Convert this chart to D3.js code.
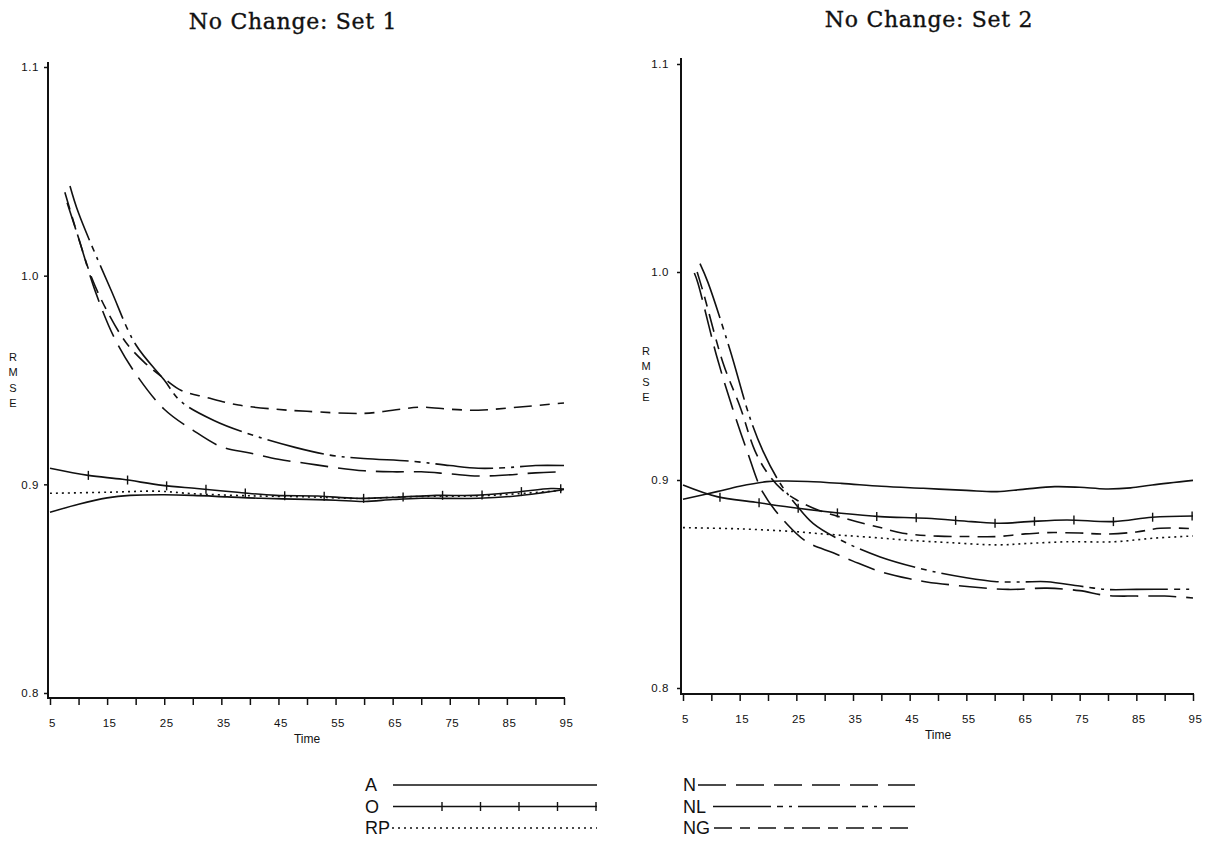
<!DOCTYPE html>
<html><head><meta charset="utf-8">
<script src="https://cdn.jsdelivr.net/npm/d3@7/dist/d3.min.js"></script>
<style>
body{margin:0;background:#fff}
svg text{fill:#111}
</style>
</head><body>
<svg id="c" width="1210" height="842"></svg>
<script>
// ---------------- data ----------------
const panelTitles = ["No Change: Set 1", "No Change: Set 2"];
const seriesNames = ["A", "O", "RP", "N", "NL", "NG"];
const timeTicks = [5,10,15,20,25,30,35,40,45,50,55,60,65,70,75,80,85,90,95];
const timeLabels = ["5","","15","","25","","35","","45","","55","","65","","75","","85","","95"];
const rmseTicks = [0.8, 0.9, 1.0, 1.1];
const rmseLabels = ["0.8", "0.9", "1.0", "1.1"];
const xTitle = "Time";
const yTitle = ["R", "M", "S", "E"];

// Set 1  [time, RMSE]
const set1_A  = [[5,0.8866],[10,0.8905],[15,0.8935],[19,0.8947],[25,0.895],[30,0.8947],[36,0.894],[42,0.8933],[50,0.8928],[55,0.8924],[60,0.8918],[65,0.8927],[70,0.8933],[80,0.8933],[87,0.8945],[95,0.8975]];
const set1_O  = [[5,0.9077],[11.7,0.9043],[17.7,0.9024],[24.7,0.8995],[30.7,0.898],[37.8,0.8962],[44.5,0.8947],[51.9,0.8944],[58.6,0.8933],[65.6,0.8938],[72.6,0.8947],[79.3,0.8947],[86.4,0.8962],[92.7,0.898],[95,0.8978]];
const set1_RP = [[5,0.8957],[15,0.8962],[24,0.8967],[30,0.8955],[40,0.8945],[50,0.894],[55,0.8935],[60,0.8932],[65,0.8938],[70,0.8942],[80,0.8945],[87,0.8955],[95,0.8972]];
const set1_N  = [[8,1.035],[10,1.018],[13,0.992],[16.3,0.970],[20,0.953],[25,0.936],[30,0.926],[35,0.918],[40,0.915],[45,0.912],[50,0.910],[55,0.908],[60,0.9065],[65,0.906],[70,0.906],[75,0.905],[80,0.904],[85,0.9045],[90,0.9055],[95,0.906]];
const set1_NL = [[8.5,1.043],[10,1.030],[15.7,0.993],[20,0.967],[25,0.950],[27.8,0.940],[33.7,0.9306],[40,0.924],[47.9,0.9177],[54,0.914],[59.9,0.9124],[68.6,0.911],[75,0.909],[80,0.9077],[85,0.908],[90,0.909],[95,0.909]];
const set1_NG = [[7.6,1.040],[10,1.018],[12.3,0.999],[15,0.983],[18.3,0.968],[21.7,0.958],[25,0.9507],[28,0.945],[32.5,0.9416],[38,0.938],[44.5,0.936],[50,0.935],[59.9,0.934],[65,0.9355],[70,0.937],[75,0.936],[80,0.9355],[85,0.9365],[95,0.939]];

// Set 2  [time, RMSE]
const set2_A  = [[5,0.8907],[11,0.8944],[15,0.897],[19.8,0.8992],[22.6,0.8995],[27,0.8993],[32.9,0.8984],[40,0.897],[47.4,0.896],[55,0.895],[60.4,0.8944],[65,0.8955],[70.6,0.8968],[75,0.8965],[79.6,0.8957],[84,0.8962],[87.8,0.8976],[95,0.8998]];
const set2_O  = [[5,0.8976],[11,0.892],[17.8,0.8893],[25.3,0.8864],[32.9,0.884],[39.8,0.8824],[48,0.8816],[55.9,0.880],[61,0.8792],[66,0.880],[72.7,0.8808],[81,0.880],[87.8,0.8821],[95,0.8827]];
const set2_RP = [[5,0.8771],[15,0.8765],[24.7,0.8752],[30,0.874],[38.4,0.8724],[45,0.871],[52.1,0.8699],[60.4,0.8688],[66,0.8695],[72.7,0.8703],[81,0.8703],[88,0.872],[95,0.8731]];
const set2_N  = [[7,0.9995],[7.6,0.995],[11,0.959],[13.8,0.934],[16.3,0.914],[19.1,0.894],[23.3,0.879],[27,0.870],[31.5,0.865],[35,0.861],[39.8,0.856],[45,0.8525],[48,0.851],[55.6,0.8487],[62.4,0.8474],[69.2,0.848],[75,0.8468],[79.6,0.8445],[85,0.8442],[90,0.8442],[95,0.8433]];
const set2_NL = [[8,1.004],[9.4,0.995],[13.3,0.9625],[16.8,0.930],[19.1,0.914],[22,0.899],[24.7,0.889],[28,0.879],[32.9,0.871],[39.8,0.863],[48,0.8567],[55,0.853],[60.4,0.8511],[65,0.851],[69.2,0.8511],[75,0.849],[79.6,0.8474],[85,0.8474],[90,0.8475],[95,0.8475]];
const set2_NG = [[7.5,1.0],[8.6,0.990],[12.1,0.956],[15.1,0.935],[17.7,0.914],[20,0.903],[22.6,0.895],[25,0.8905],[28.8,0.8856],[34.3,0.881],[40,0.877],[43.8,0.8744],[50,0.873],[55.6,0.8728],[60.4,0.8728],[65,0.874],[69.2,0.8747],[75,0.8745],[79.6,0.874],[85,0.875],[89.2,0.8768],[95,0.8766]];

const legendLeft = ["A", "O", "RP"];
const legendRight = ["N", "NL", "NG"];

// ---------------- drawing ----------------
const ink = "#111";
const sans = "'Liberation Sans', Arial, sans-serif";
const style = {
  A:  {dash: null},
  O:  {dash: null, plus: true},
  RP: {dash: "2,4"},
  N:  {dash: "28,10"},
  NL: {dash: "58,6,6,6,3,6"},
  NG: {dash: "18,8,10,8"}
};

const svg = d3.select("#c");

function addPlus(g, pathNode, start, step) {
  const L = pathNode.getTotalLength();
  for (let s = start; s <= L + 0.5; s += step) {
    const p = pathNode.getPointAtLength(Math.min(s, L));
    g.append("line").attr("x1", p.x).attr("x2", p.x)
      .attr("y1", p.y - 4.5).attr("y2", p.y + 4.5)
      .attr("stroke", ink).attr("stroke-width", 1.4);
  }
}

function drawPanel(cfg) {
  const g = svg.append("g");
  const x = d3.scaleLinear().domain([5, 95]).range(cfg.xr);
  const y = d3.scaleLinear().domain([0.8, 1.1]).range(cfg.yr);

  // title
  g.append("text").attr("x", cfg.titleX).attr("y", cfg.titleY)
    .attr("text-anchor", "middle")
    .style("font-family", "'DejaVu Serif', serif").style("font-size", "22px")
    .style("letter-spacing", "0.7px")
    .attr("stroke", ink).attr("stroke-width", 0.35)
    .text(cfg.title);

  // axis lines
  g.append("line").attr("x1", cfg.yAxisX).attr("x2", cfg.yAxisX)
    .attr("y1", cfg.yAxisTop).attr("y2", cfg.xAxisY + 1)
    .attr("stroke", ink).attr("stroke-width", 2);
  g.append("line").attr("x1", cfg.yAxisX).attr("x2", x(95) + 1)
    .attr("y1", cfg.xAxisY).attr("y2", cfg.xAxisY)
    .attr("stroke", ink).attr("stroke-width", 2);

  // y axis ticks
  const ya = d3.axisLeft(y).tickValues(rmseTicks).tickSize(4).tickPadding(cfg.yPad)
    .tickFormat((d, i) => rmseLabels[i]);
  const yg = g.append("g").attr("transform", `translate(${cfg.yAxisX},0)`).call(ya);
  yg.select(".domain").remove();
  yg.selectAll("line").attr("stroke", ink).attr("stroke-width", 1.5);
  yg.selectAll("text").style("font-family", sans).style("font-size", "11.5px")
    .style("letter-spacing", "0.6px").attr("fill", ink);

  // x axis ticks
  const xa = d3.axisBottom(x).tickValues(timeTicks).tickSize(7).tickPadding(cfg.xPad)
    .tickFormat((d, i) => timeLabels[i]);
  const xg = g.append("g").attr("transform", `translate(0,${cfg.xAxisY})`).call(xa);
  xg.select(".domain").remove();
  xg.selectAll("line").attr("stroke", ink).attr("stroke-width", 1.5);
  xg.selectAll("text").style("font-family", sans).style("font-size", "11.5px")
    .style("letter-spacing", "0.5px").attr("fill", ink).attr("dx", "2");

  // axis titles
  g.append("text").attr("x", (cfg.xr[0] + cfg.xr[1]) / 2).attr("y", cfg.timeY)
    .attr("text-anchor", "middle").style("font-family", sans).style("font-size", "12px")
    .text(xTitle);
  g.selectAll(".rm").data(yTitle).enter().append("text")
    .attr("x", cfg.rmseX).attr("y", (d, i) => cfg.rmseY + i * 15.3)
    .attr("text-anchor", "middle").style("font-family", sans).style("font-size", "11px")
    .text(d => d);

  // series
  const line = d3.line().x(d => x(d[0])).y(d => y(d[1])).curve(d3.curveCatmullRom.alpha(0.5));
  cfg.series.forEach((data, i) => {
    const name = seriesNames[i];
    const st = style[name];
    const p = g.append("path").datum(data).attr("d", line)
      .attr("fill", "none").attr("stroke", ink).attr("stroke-width", 1.6)
      .attr("stroke-dasharray", st.dash);
    if (st.plus) addPlus(g, p.node(), 39, 39.5);
  });
}

drawPanel({
  title: panelTitles[0], titleX: 293, titleY: 29,
  xr: [50, 564], yr: [693, 67], yAxisX: 48, yAxisTop: 62, xAxisY: 698,
  yPad: 5, xPad: 14, timeY: 743, rmseX: 13, rmseY: 361,
  series: [set1_A, set1_O, set1_RP, set1_N, set1_NL, set1_NG]
});
drawPanel({
  title: panelTitles[1], titleX: 929, titleY: 27,
  xr: [683, 1193], yr: [688, 64], yAxisX: 681, yAxisTop: 58, xAxisY: 694,
  yPad: 8, xPad: 14, timeY: 739, rmseX: 646, rmseY: 355,
  series: [set2_A, set2_O, set2_RP, set2_N, set2_NL, set2_NG]
});

// legend
function drawLegend(names, textX, lineEnd, lineStarts) {
  const lg = svg.append("g");
  names.forEach((name, i) => {
    const by = 791 + i * 21.5;
    lg.append("text").attr("x", textX).attr("y", by)
      .style("font-family", sans).style("font-size", "18px").text(name);
    const st = style[name];
    const ln = lg.append("path")
      .attr("d", d3.line()([[lineStarts[i], by - 6], [lineEnd, by - 6]]))
      .attr("stroke", ink).attr("stroke-width", 1.6).attr("fill", "none")
      .attr("stroke-dasharray", st.dash);
    if (st.plus) addPlus(lg, ln.node(), 49, 38.5);
  });
}
drawLegend(legendLeft, 365, 597, [393, 393, 392]);
drawLegend(legendRight, 683, 915, [698, 713, 714]);
</script>
</body></html>
